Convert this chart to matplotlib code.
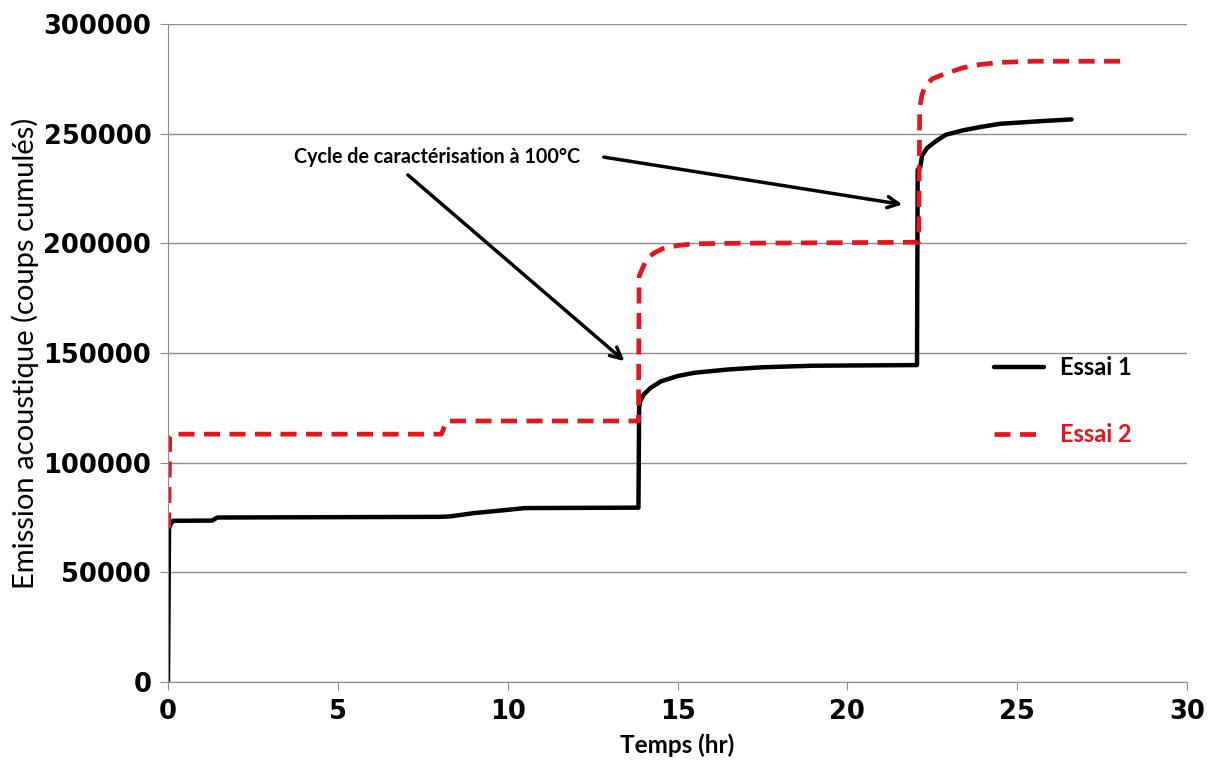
import matplotlib.pyplot as plt

# Essai 1 (black solid) - cumulative acoustic emission counts vs time (hr)
essai1_t = [0, 0.03, 0.08, 0.15, 1.3, 1.45, 8.0, 8.3, 9.0, 10.0, 10.5, 13.85,
            13.87, 13.9, 14.0, 14.2, 14.5, 15.0, 15.5, 16.5, 17.5, 19.0, 22.05,
            22.07, 22.15, 22.2, 22.35, 22.6, 22.9, 23.4, 23.9, 24.5, 25.0, 25.8, 26.6]
essai1_y = [0, 70000, 72000, 73500, 73600, 75000, 75300, 75500, 77000, 78500,
            79300, 79500, 125000, 128000, 131000, 134000, 137000, 139500, 141000,
            142500, 143500, 144200, 144500, 233500, 235000, 240000, 243500, 246500,
            249500, 251500, 253000, 254500, 255000, 255800, 256500]

# Essai 2 (red dashed)
essai2_t = [0.02, 0.05, 0.1, 8.05, 8.2, 13.85, 13.87, 13.95, 14.1, 14.3, 14.55,
            15.0, 15.5, 16.5, 22.1, 22.13, 22.2, 22.3, 22.5, 22.9, 23.4, 23.9,
            24.5, 25.5, 28.1]
essai2_y = [70000, 112000, 113000, 113000, 119000, 119000, 185000, 188000, 193000,
            195500, 197500, 199000, 199800, 200000, 200500, 262000, 268000, 272000,
            275000, 277500, 280000, 281500, 282500, 283000, 283000]

x_ticks = [0, 5, 10, 15, 20, 25, 30]
y_ticks = [0, 50000, 100000, 150000, 200000, 250000, 300000]

annot_text = "Cycle de caractérisation à 100°C"
annot_pos = (3.7, 239500)
arrow_targets = [(13.5, 145500), (21.7, 217500)]
arrow_starts = [(7.0, 232000), (12.75, 239500)]


def main():
    fig = plt.figure(figsize=(12.13, 7.71), dpi=100)
    ax = fig.add_axes([0.1385, 0.1154, 0.8401, 0.8535])

    ax.plot(essai1_t, essai1_y, color="black", lw=3.2, label="Essai 1",
            solid_capstyle="round", solid_joinstyle="round")
    ax.plot(essai2_t, essai2_y, color="#e8141c", lw=3.4, label="Essai 2",
            dashes=(3.4, 2.0))

    ax.set_xlim(0, 30)
    ax.set_ylim(0, 300000)
    ax.set_xticks(x_ticks)
    ax.set_yticks(y_ticks)
    ax.set_xticklabels([str(v) for v in x_ticks], fontsize=18.5,
                       fontweight="bold", family="DejaVu Sans")
    ax.set_yticklabels([str(v) for v in y_ticks], fontsize=18.5,
                       fontweight="bold", family="DejaVu Sans")
    ax.grid(axis="y", color="#8c8c8c", lw=1)
    ax.set_axisbelow(True)
    for side in ["top", "right"]:
        ax.spines[side].set_visible(False)
    for side in ["left", "bottom"]:
        ax.spines[side].set_color("#8c8c8c")
    ax.tick_params(direction="out", length=6, color="#8c8c8c", pad=6)

    ax.set_xlabel("Temps (hr)", fontsize=17.5, fontweight="bold", family="Lato",
                  labelpad=6)
    ax.set_ylabel("Emission acoustique (coups cumulés)", fontsize=21,
                  family="Lato", labelpad=3)

    ax.text(annot_pos[0], annot_pos[1], annot_text, fontsize=14.2,
            fontweight="bold", family="Lato", va="center", ha="left")
    for start, end in zip(arrow_starts, arrow_targets):
        ax.annotate("", xy=end, xytext=start,
                    arrowprops=dict(arrowstyle="->,head_length=0.8,head_width=0.4",
                                    color="black", lw=2.5))

    ax.legend(loc="upper left", bbox_to_anchor=(0.79, 0.527), frameon=False,
              handlelength=2.1, labelspacing=1.85, handletextpad=0.7,
              prop={"family": "Lato", "weight": "bold", "size": 17},
              labelcolor="linecolor")

    fig.savefig("out.png", dpi=100)


if __name__ == "__main__":
    main()
